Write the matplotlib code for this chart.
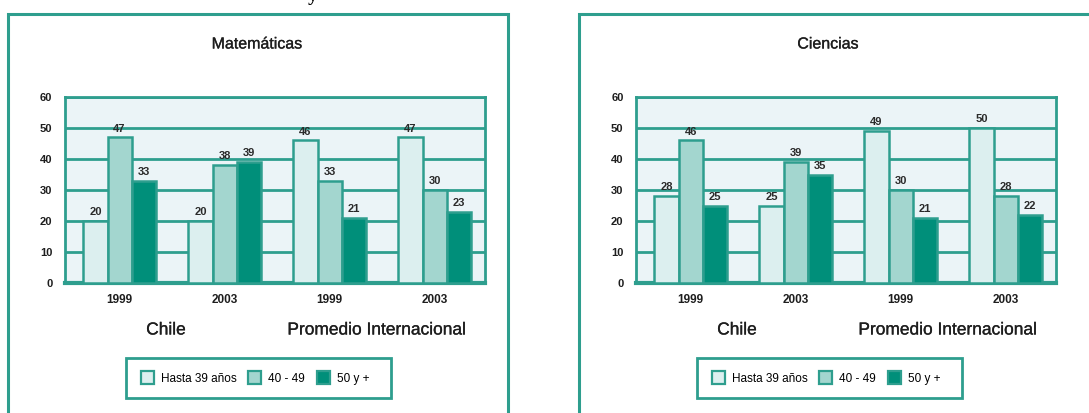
import matplotlib
matplotlib.use("Agg")
import matplotlib.pyplot as plt
from matplotlib.patches import Rectangle, Patch
import matplotlib.patheffects as pe
import numpy as np

W, H = 1089, 413

years = ["1999", "2003", "1999", "2003"]
regions = ["Chile", "Promedio Internacional"]
series_names = ["Hasta 39 años", "40 - 49", "50 y +"]

mat_hasta39 = [20, 20, 46, 47]
mat_40_49 = [47, 38, 33, 30]
mat_50mas = [33, 39, 21, 23]

cie_hasta39 = [28, 25, 49, 50]
cie_40_49 = [46, 39, 30, 28]
cie_50mas = [25, 35, 21, 22]

yticks = [0, 10, 20, 30, 40, 50, 60]

TEAL = "#2e9e8e"
C_LIGHT = "#dcefef"
C_MED = "#a3d6cf"
C_DARK = "#008f7a"
BG = "#ebf4f7"
TXT = "#1e1e1e"
colors = [C_LIGHT, C_MED, C_DARK]
FONT = "Liberation Sans"
HEAVY = [pe.withStroke(linewidth=0.2, foreground=TXT)]

fig = plt.figure(figsize=(W / 100, H / 100), dpi=100)
fig.patch.set_facecolor("white")


def fx(px):
    return px / W


def fy(py):
    return 1 - py / H


# panel frames
fig.patches.append(Rectangle((fx(8), fy(430)), fx(500), (430 - 14) / H,
                             transform=fig.transFigure, fill=False,
                             edgecolor=TEAL, lw=2.2))
fig.patches.append(Rectangle((fx(579), fy(430)), fx(540), (430 - 14) / H,
                             transform=fig.transFigure, fill=False,
                             edgecolor=TEAL, lw=2.2))

# cropped heading fragment at top (cut off in the reference as well)
fig.text(fx(313), fy(-3), "y", fontsize=14, fontweight="bold",
         family="Liberation Serif", ha="center", va="center", color="black")


def draw_panel(left_px, title, title_x, s1, s2, s3, chile_x, prom_x, leg_x0):
    ax = fig.add_axes([fx(left_px), fy(283), fx(420), (283 - 97) / H])
    ax.set_facecolor(BG)
    x = np.arange(len(years))
    w = 0.23
    for i, (vals, c) in enumerate(zip([s1, s2, s3], colors)):
        bars = ax.bar(x + (i - 1) * w, vals, w, color=c, edgecolor=TEAL,
                      linewidth=1.8, zorder=3)
        for b, v in zip(bars, vals):
            ax.text(b.get_x() + b.get_width() / 2, v + 1.2, str(v),
                    ha="center", va="bottom", fontsize=8, fontweight="bold",
                    color="#2a2a2a", family=FONT, zorder=4)
    ax.set_xlim(-0.52, 3.48)
    ax.set_ylim(0, 60)
    ax.set_yticks(yticks)
    ax.set_yticklabels([str(t) for t in yticks], fontsize=8, fontweight="bold",
                       family=FONT, color=TXT)
    ax.set_xticks(x)
    ax.set_xticklabels(years, fontsize=8.5, fontweight="bold",
                       family=FONT, color=TXT)
    ax.tick_params(axis="y", length=0, pad=9)
    ax.tick_params(axis="x", length=0, pad=8)
    ax.yaxis.grid(True, color=TEAL, lw=2)
    ax.set_axisbelow(True)
    for s in ["top", "left", "right"]:
        ax.spines[s].set_color(TEAL)
        ax.spines[s].set_linewidth(2)
    ax.spines["bottom"].set_color(TEAL)
    ax.spines["bottom"].set_linewidth(3)

    fig.text(fx(title_x), fy(44), title, ha="center", va="center",
             fontsize=11.5, family=FONT, color=TXT, path_effects=HEAVY)
    fig.text(fx(chile_x), fy(330), regions[0], ha="center", va="center",
             fontsize=12.5, family=FONT, color=TXT, path_effects=HEAVY)
    fig.text(fx(prom_x), fy(330), regions[1], ha="center", va="center",
             fontsize=12.5, family=FONT, color=TXT, path_effects=HEAVY)

    # legend box
    fig.patches.append(Rectangle((fx(leg_x0), fy(398)), fx(265), 40 / H,
                                 transform=fig.transFigure, fill=False,
                                 edgecolor=TEAL, lw=2))
    handles = [Patch(facecolor=c, edgecolor=TEAL, lw=1.6) for c in colors]
    fig.legend(handles, series_names, loc="center",
               bbox_to_anchor=(fx(leg_x0 + 129), fy(378)), ncol=3,
               frameon=False, handlelength=1.1, handleheight=1.2,
               handletextpad=0.6, columnspacing=1.0,
               prop={"family": FONT, "size": 8.5})


draw_panel(65, "Matemáticas", 257, mat_hasta39, mat_40_49, mat_50mas,
           166, 377, 126)
draw_panel(636, "Ciencias", 828, cie_hasta39, cie_40_49, cie_50mas,
           737, 948, 697)

fig.savefig("out.png", dpi=100)
